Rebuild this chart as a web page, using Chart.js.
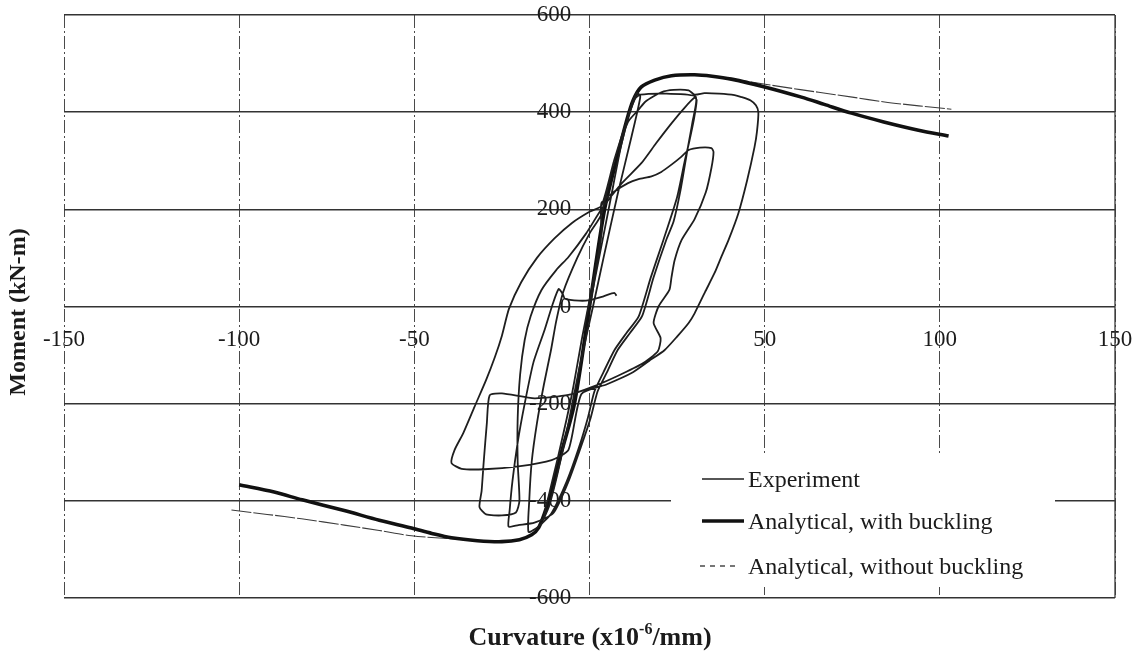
<!DOCTYPE html>
<html>
<head>
<meta charset="utf-8">
<title>Moment - Curvature</title>
<script src="https://cdn.jsdelivr.net/npm/chart.js@4.4.1/dist/chart.umd.min.js"></script>
<style>
  html, body { margin: 0; padding: 0; background: #fff; }
  canvas { display: block; }
</style>
</head>
<body>
<canvas id="grafico" width="1146" height="657"></canvas>
<script>
// ticks
const xTicks = [-150, -100, -50, 0, 50, 100, 150];
const yTicks = [-600, -400, -200, 0, 200, 400, 600];

// analytical curves [curvature, moment]
const conPandeo = [
  [-100, -367], [-90, -382], [-82, -398], [-70, -420], [-60, -440], [-50.8, -456], [-45, -467],
  [-39.4, -476], [-32, -482], [-25, -484], [-20, -480], [-16.5, -470], [-14.5, -455], [-12.8, -425],
  [-11, -385], [-8, -300], [-4.3, -200], [0, 0], [4.3, 200], [8, 310], [10.5, 380], [12.5, 425],
  [14.8, 452], [18.6, 466], [23.4, 475], [30, 477], [35, 474], [40.5, 468], [50, 452], [60.5, 431],
  [67, 416], [74.8, 398], [84, 380], [93.9, 363], [102.5, 351]
];
const sinPandeo = [
  [-102.2, -419], [-92, -428], [-82.2, -437], [-70, -450], [-60, -461], [-50.8, -472], [-39.4, -478],
  [-32, -482], [-25, -484], [-20, -480], [-16.5, -470], [-14.5, -455], [-12.8, -425], [-11, -385],
  [-8, -300], [-4.3, -200], [0, 0], [4.3, 200], [8, 310], [10.5, 380], [12.5, 425], [14.8, 452],
  [18.6, 466], [23.4, 475], [30, 477], [35, 474], [40.5, 468], [46.2, 462], [55, 452], [65.4, 441],
  [75, 431], [84.2, 421], [94, 413], [103.3, 406]
];

// experiment, one continuous record split in pieces
const ciclosElasticos = [
  [0, 0], [3, 110], [6, 220], [9, 330], [12, 415], [13.5, 440], [14.5, 432], [12, 350], [8, 230],
  [4, 100], [1, 0], [-3, -130], [-6, -240], [-9, -340], [-11.5, -410], [-13, -435], [-12.5, -415],
  [-9, -310], [-5, -180], [-2, -60], [1, 50], [3.4, 150], [3.4, 213]
];
const cicloD = [
  [7, 236], [11, 254], [14, 262], [17.7, 268], [20.5, 277], [23.4, 292], [26, 307], [28.3, 322],
  [31.5, 327], [34.8, 326], [35.4, 318], [34.8, 285], [33.2, 235], [30, 180], [26.3, 137], [24.3, 95],
  [23.4, 60], [22.8, 34], [19.7, 0], [18.3, -34], [20.3, -65], [19.5, -92], [15, -118], [8, -143],
  [1, -165], [-6, -182], [-15.7, -189], [-25, -179], [-28.5, -183], [-29.3, -240], [-30.2, -320],
  [-30.8, -380], [-31.4, -413], [-29.5, -428], [-25, -430], [-21, -424], [-20, -400], [-20.5, -320],
  [-20.5, -230], [-19.8, -140], [-18.5, -69], [-16.8, -20], [-13.7, 34], [-9.5, 75], [-6, 102],
  [-1, 150], [3.4, 200]
];
const cicloB = [
  [9, 252], [14.8, 295], [19, 336], [23.4, 377], [27, 408], [30, 430], [30.6, 425], [29.8, 385],
  [28.5, 340], [27.2, 300], [25, 225], [21.1, 137], [17.5, 60], [14, -21], [10.5, -55], [7.1, -90],
  [4, -135], [1.4, -175], [-0.5, -230], [-3, -290], [-6.5, -360], [-10.8, -425], [-14.6, -453],
  [-17.4, -464], [-17.2, -400], [-16.5, -320], [-15, -240], [-13, -160], [-11, -90], [-9.5, -30],
  [-7.5, 30], [-3.5, 100], [0, 150], [3.4, 190]
];
const cicloC = [
  [7, 300], [11, 380], [14, 405], [16, 422], [20.5, 441], [24, 446], [28.3, 445], [30, 436],
  [32.8, 439], [37, 438], [41.4, 435], [43.4, 431], [46, 424], [47.5, 414], [48.2, 400], [47.8, 360],
  [47.1, 328], [45, 260], [42.5, 192], [39.7, 137], [37.5, 100], [35.7, 69], [33, 30], [30, -14],
  [28.3, -34], [25, -62], [21.4, -90], [17, -112], [12, -137], [5, -160], [-2.3, -180], [-6, -295],
  [-10.8, -316], [-20.3, -329], [-30, -335], [-36.5, -334], [-39.4, -322], [-38.5, -295], [-36, -260],
  [-32.8, -206], [-29.5, -151], [-27, -104], [-25, -60], [-23, -5], [-19.5, 50], [-15, 100],
  [-10, 140], [-5, 172], [0, 195], [3.4, 207]
];
const cicloFinal = [
  [7, 300], [11, 390], [13, 428], [14.5, 436], [22, 438], [30.3, 432], [29.4, 380], [27.9, 320],
  [26, 240], [24, 175], [21.9, 137], [18.3, 60], [15, -20], [11.5, -55], [8, -90], [5, -135],
  [2.3, -175], [0.3, -230], [-2.5, -290], [-6, -360], [-10.3, -425], [-15.7, -445], [-20.3, -450],
  [-23.1, -453], [-22.8, -420], [-22, -360], [-20.5, -280], [-18.5, -200], [-16, -115], [-12.8, -48],
  [-10.5, 5], [-8.8, 36], [-7.6, 25], [-7, 16], [-3, 12], [0, 13], [4, 21], [7.1, 28], [7.7, 22]
];
const experimento = [...ciclosElasticos, ...cicloD, ...cicloB, ...cicloC, ...cicloFinal];

const aPuntos = arr => arr.map(([x, y]) => ({ x, y }));
const fuente = "'Liberation Serif', 'Times New Roman', serif";
const tinta = "#1b1b1b";

// solid right edge of the plot frame
const marcoPlugin = {
  id: "marco",
  beforeDatasetsDraw(chart) {
    const { ctx, chartArea } = chart;
    ctx.save();
    ctx.strokeStyle = "#3a3a3a";
    ctx.lineWidth = 1.3;
    ctx.beginPath();
    ctx.moveTo(chartArea.right, chartArea.top);
    ctx.lineTo(chartArea.right, chartArea.bottom);
    ctx.stroke();
    ctx.restore();
  }
};

// legend drawn on a white box inside the plot, like the original
const leyendaPlugin = {
  id: "leyenda",
  afterDatasetsDraw(chart) {
    const ctx = chart.ctx;
    ctx.save();
    ctx.fillStyle = "#fff";
    ctx.fillRect(671, 456, 384, 131);
    const filas = [479, 521, 566];
    chart.data.datasets.forEach((ds, i) => {
      const y = filas[i];
      ctx.strokeStyle = ds.borderColor;
      ctx.lineWidth = ds.legendWidth;
      ctx.setLineDash(ds.legendDash || []);
      ctx.beginPath();
      ctx.moveTo(i === 2 ? 700 : 702, y);
      ctx.lineTo(i === 2 ? 735 : 744, y);
      ctx.stroke();
      ctx.setLineDash([]);
      ctx.fillStyle = tinta;
      ctx.font = "24px " + fuente;
      ctx.textBaseline = "middle";
      ctx.fillText(ds.label, 748, y + 2);
    });
    ctx.restore();
  }
};

// axis titles (bold, with superscript on the x title)
const titulosPlugin = {
  id: "titulos",
  afterDraw(chart) {
    const ctx = chart.ctx;
    ctx.save();
    ctx.fillStyle = tinta;
    ctx.textBaseline = "middle";
    ctx.font = "bold 24px " + fuente;
    ctx.translate(19, 312);
    ctx.rotate(-Math.PI / 2);
    ctx.textAlign = "center";
    ctx.fillText("Moment (kN-m)", 0, 0);
    ctx.restore();

    ctx.save();
    ctx.fillStyle = tinta;
    ctx.textBaseline = "alphabetic";
    const partes = [
      ["Curvature (x10", "bold 26px ", 0],
      ["-6", "bold 16px ", -11],
      ["/mm)", "bold 26px ", 0]
    ];
    let ancho = 0;
    partes.forEach(p => { ctx.font = p[1] + fuente; ancho += ctx.measureText(p[0]).width; });
    let x = 590 - ancho / 2;
    partes.forEach(p => {
      ctx.font = p[1] + fuente;
      ctx.fillText(p[0], x, 645 + p[2]);
      x += ctx.measureText(p[0]).width;
    });
    ctx.restore();
  }
};

new Chart(document.getElementById("grafico").getContext("2d"), {
  type: "scatter",
  data: {
    datasets: [
      {
        label: "Experiment",
        data: aPuntos(experimento),
        showLine: true,
        borderColor: "#1e1e1e",
        borderWidth: 1.8,
        legendWidth: 1.6,
        tension: 0.2,
        pointRadius: 0
      },
      {
        label: "Analytical, with buckling",
        data: aPuntos(conPandeo),
        showLine: true,
        borderColor: "#111",
        borderWidth: 3.6,
        legendWidth: 3.6,
        tension: 0.3,
        pointRadius: 0
      },
      {
        label: "Analytical, without buckling",
        data: aPuntos(sinPandeo),
        showLine: true,
        borderColor: "#3c3c3c",
        borderWidth: 1.1,
        borderDash: [20, 2],
        legendWidth: 1.4,
        legendDash: [5, 5],
        tension: 0.3,
        pointRadius: 0
      }
    ]
  },
  options: {
    responsive: false,
    animation: false,
    layout: { padding: { left: 64, right: 31, top: 15, bottom: 59 } },
    plugins: {
      legend: { display: false },
      tooltip: { enabled: false }
    },
    scales: {
      x: {
        type: "linear",
        // labels sit a little under the zero line, as in the scan
        position: { y: -18.5 },
        min: -150,
        max: 150,
        afterBuildTicks: axis => { axis.ticks = xTicks.map(v => ({ value: v })); },
        grid: { color: "#4a4a4a", lineWidth: 1, drawTicks: false },
        border: { display: false, dash: [13, 3, 2, 3] },
        ticks: {
          padding: 11,
          color: tinta,
          font: { family: fuente, size: 23 },
          maxRotation: 0,
          autoSkip: false,
          callback: v => (v === 0 ? "" : v)
        }
      },
      y: {
        type: "linear",
        position: { x: -5.2 },
        min: -600,
        max: 600,
        afterBuildTicks: axis => { axis.ticks = yTicks.map(v => ({ value: v })); },
        grid: { color: "#333", lineWidth: 1.5, drawTicks: false },
        border: { display: false },
        ticks: {
          padding: 0,
          color: tinta,
          font: { family: fuente, size: 23 },
          autoSkip: false
        }
      }
    }
  },
  plugins: [marcoPlugin, leyendaPlugin, titulosPlugin]
});
</script>
</body>
</html>
